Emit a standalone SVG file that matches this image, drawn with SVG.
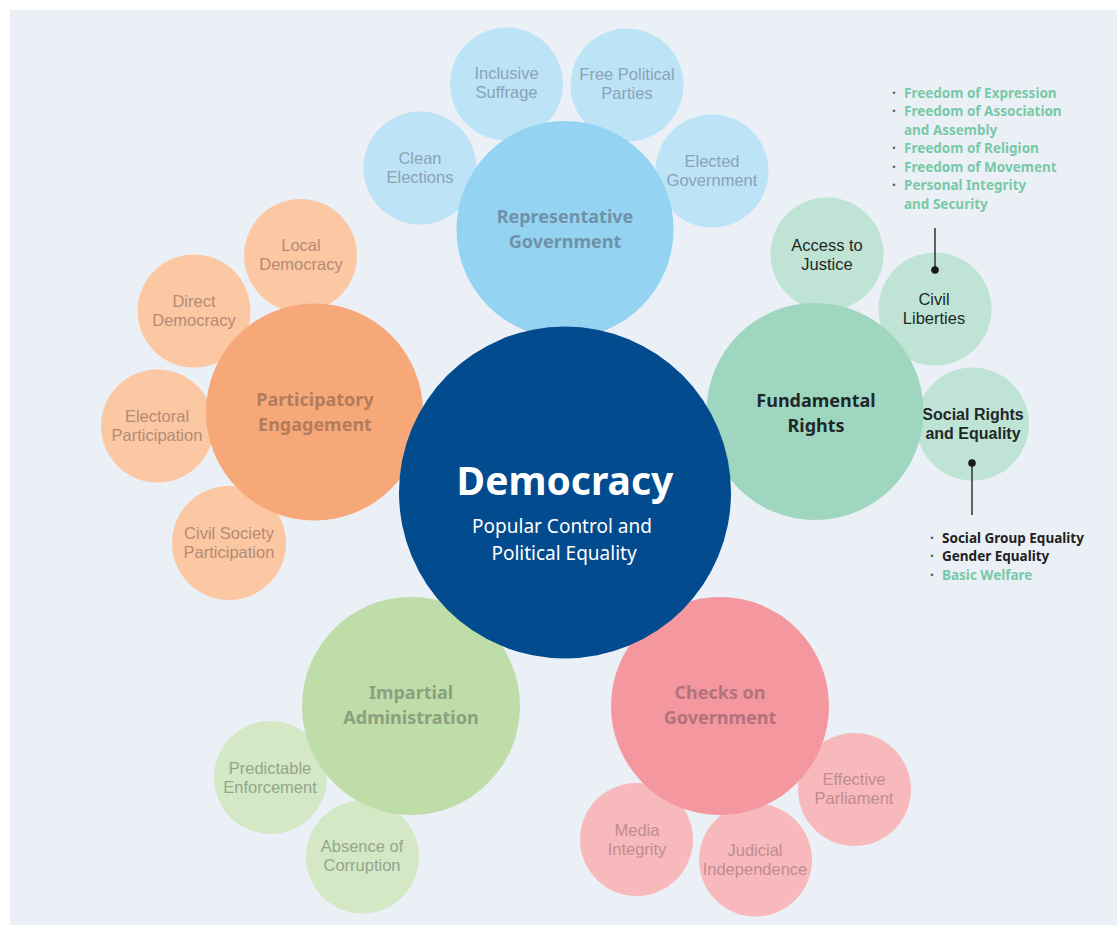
<svg xmlns="http://www.w3.org/2000/svg" width="1120" height="926" viewBox="0 0 1120 926">
<style>
text{font-family:"Noto Sans","Open Sans","DejaVu Sans",sans-serif;text-anchor:middle}
.sub{font-family:"Liberation Sans",Arial,sans-serif;font-size:16.5px}
.main{font-size:18px;font-weight:700}
.rg-s{fill:#bde3f6}.rg-m{fill:#94d3f1}.rg-t{fill:#88a4b8}.rg-tm{fill:#6f92aa}
.fr-s{fill:#bfe3d4}.fr-m{fill:#9fd6c0}.fr-t{fill:#1f2828}
.pe-s{fill:#fcc7a3}.pe-m{fill:#f7a878}.pe-t{fill:#b48b75}.pe-tm{fill:#b27c5d}
.ia-s{fill:#d4e8c6}.ia-m{fill:#bedda8}.ia-t{fill:#93a68b}.ia-tm{fill:#8aa17f}
.cg-s{fill:#f8b9bd}.cg-m{fill:#f4979e}.cg-t{fill:#bf8c91}.cg-tm{fill:#b2737b}
.list{font-size:13.5px;font-weight:700;text-anchor:start}
.teal{fill:#78c9a6}.dark{fill:#222222}
.bul{fill:#555555}
</style>
<rect x="10" y="10" width="1107" height="915" fill="#ebf0f7"/>

<!-- Representative Government sub nodes -->
<g id="clean-elections"><circle class="rg-s" cx="420" cy="168" r="56.5"/><text class="sub rg-t" x="420" y="164">Clean<tspan x="420" dy="18.5">Elections</tspan></text></g>
<g id="inclusive-suffrage"><circle class="rg-s" cx="506.5" cy="84" r="56.5"/><text class="sub rg-t" x="506.5" y="79">Inclusive<tspan x="506.5" dy="18.5">Suffrage</tspan></text></g>
<g id="free-political-parties"><circle class="rg-s" cx="627" cy="85" r="56.5"/><text class="sub rg-t" x="627" y="80">Free Political<tspan x="627" dy="19">Parties</tspan></text></g>
<g id="elected-government"><circle class="rg-s" cx="712" cy="171" r="56.5"/><text class="sub rg-t" x="712" y="167">Elected<tspan x="712" dy="18.5">Government</tspan></text></g>

<!-- Fundamental Rights sub nodes -->
<g id="access-to-justice"><circle class="fr-s" cx="827" cy="254" r="56.5"/><text class="sub fr-t" x="827" y="251">Access to<tspan x="827" dy="18.5">Justice</tspan></text></g>
<g id="civil-liberties"><circle class="fr-s" cx="935" cy="309" r="56.5"/><text class="sub fr-t" x="934" y="305">Civil<tspan x="934" dy="19">Liberties</tspan></text></g>
<g id="social-rights"><circle class="fr-s" cx="972.5" cy="424" r="56.5"/><text class="sub fr-t" x="973" y="420" style="font-weight:700;font-size:16px">Social Rights<tspan x="973" dy="19">and Equality</tspan></text></g>

<!-- Participatory Engagement sub nodes -->
<g id="local-democracy"><circle class="pe-s" cx="300.5" cy="255.5" r="56.5"/><text class="sub pe-t" x="301" y="251">Local<tspan x="301" dy="19">Democracy</tspan></text></g>
<g id="direct-democracy"><circle class="pe-s" cx="194" cy="311" r="56.5"/><text class="sub pe-t" x="194" y="307">Direct<tspan x="194" dy="19">Democracy</tspan></text></g>
<g id="electoral-participation"><circle class="pe-s" cx="157.5" cy="426" r="56.5"/><text class="sub pe-t" x="157" y="422">Electoral<tspan x="157" dy="19">Participation</tspan></text></g>
<g id="civil-society-participation"><circle class="pe-s" cx="229" cy="543" r="57"/><text class="sub pe-t" x="229" y="539">Civil Society<tspan x="229" dy="18.5">Participation</tspan></text></g>

<!-- Impartial Administration sub nodes -->
<g id="predictable-enforcement"><circle class="ia-s" cx="270.5" cy="777.5" r="56.5"/><text class="sub ia-t" x="270" y="774">Predictable<tspan x="270" dy="18.5">Enforcement</tspan></text></g>
<g id="absence-of-corruption"><circle class="ia-s" cx="362.5" cy="857" r="56.5"/><text class="sub ia-t" x="362" y="852">Absence of<tspan x="362" dy="19">Corruption</tspan></text></g>

<!-- Checks on Government sub nodes -->
<g id="effective-parliament"><circle class="cg-s" cx="854.5" cy="789.5" r="56.5"/><text class="sub cg-t" x="854" y="785">Effective<tspan x="854" dy="19">Parliament</tspan></text></g>
<g id="media-integrity"><circle class="cg-s" cx="636.5" cy="839.5" r="56.5"/><text class="sub cg-t" x="637" y="836">Media<tspan x="637" dy="19">Integrity</tspan></text></g>
<g id="judicial-independence"><circle class="cg-s" cx="755.5" cy="860" r="56.5"/><text class="sub cg-t" x="755" y="856">Judicial<tspan x="755" dy="18.5">Independence</tspan></text></g>

<!-- Main nodes -->
<g id="representative-government"><circle class="rg-m" cx="565" cy="229.5" r="108.5"/><text class="main rg-tm" x="565" y="223">Representative<tspan x="565" dy="25">Government</tspan></text></g>
<g id="fundamental-rights"><circle class="fr-m" cx="815" cy="411.5" r="108.5"/><text class="main fr-t" x="816" y="407">Fundamental<tspan x="816" dy="25">Rights</tspan></text></g>
<g id="participatory-engagement"><circle class="pe-m" cx="314.5" cy="412" r="108.5"/><text class="main pe-tm" x="315" y="406">Participatory<tspan x="315" dy="24.5">Engagement</tspan></text></g>
<g id="impartial-administration"><circle class="ia-m" cx="411" cy="706" r="109"/><text class="main ia-tm" x="411" y="699">Impartial<tspan x="411" dy="24.5">Administration</tspan></text></g>
<g id="checks-on-government"><circle class="cg-m" cx="720" cy="706" r="109"/><text class="main cg-tm" x="720" y="699">Checks on<tspan x="720" dy="24.5">Government</tspan></text></g>

<!-- Center -->
<g id="democracy"><circle cx="565" cy="492.5" r="166" fill="#024b8e"/><text x="565" y="495" style="font-size:39px;font-weight:700" fill="#ffffff">Democracy</text><text x="562" y="533" style="font-size:19px" fill="#ffffff">Popular Control and<tspan x="564" dy="27">Political Equality</tspan></text></g>

<g id="connectors" stroke="#333333" stroke-width="1.5" fill="#1a1a1a">
<line x1="935" y1="228" x2="935" y2="270"/>
<circle cx="935" cy="270" r="3.8" stroke="none"/>
<line x1="972" y1="463" x2="972" y2="515"/>
<circle cx="972" cy="463" r="3.8" stroke="none"/>
</g>

<!-- Civil liberties list -->
<g id="civil-liberties-list">
<text class="list bul" x="892" y="97.5">·</text><text class="list teal" x="904" y="97.5">Freedom of Expression</text>
<text class="list bul" x="892" y="116">·</text><text class="list teal" x="904" y="116">Freedom of Association<tspan x="904" dy="18.5">and Assembly</tspan></text>
<text class="list bul" x="892" y="153">·</text><text class="list teal" x="904" y="153">Freedom of Religion</text>
<text class="list bul" x="892" y="171.5">·</text><text class="list teal" x="904" y="171.5">Freedom of Movement</text>
<text class="list bul" x="892" y="190">·</text><text class="list teal" x="904" y="190">Personal Integrity<tspan x="904" dy="18.5">and Security</tspan></text>
</g>
<!-- Social rights list -->
<g id="social-rights-list">
<text class="list bul" x="930" y="542.5">·</text><text class="list dark" x="942" y="542.5">Social Group Equality</text>
<text class="list bul" x="930" y="561">·</text><text class="list dark" x="942" y="561">Gender Equality</text>
<text class="list bul" x="930" y="579.5">·</text><text class="list teal" x="942" y="579.5">Basic Welfare</text>
</g>
</svg>
